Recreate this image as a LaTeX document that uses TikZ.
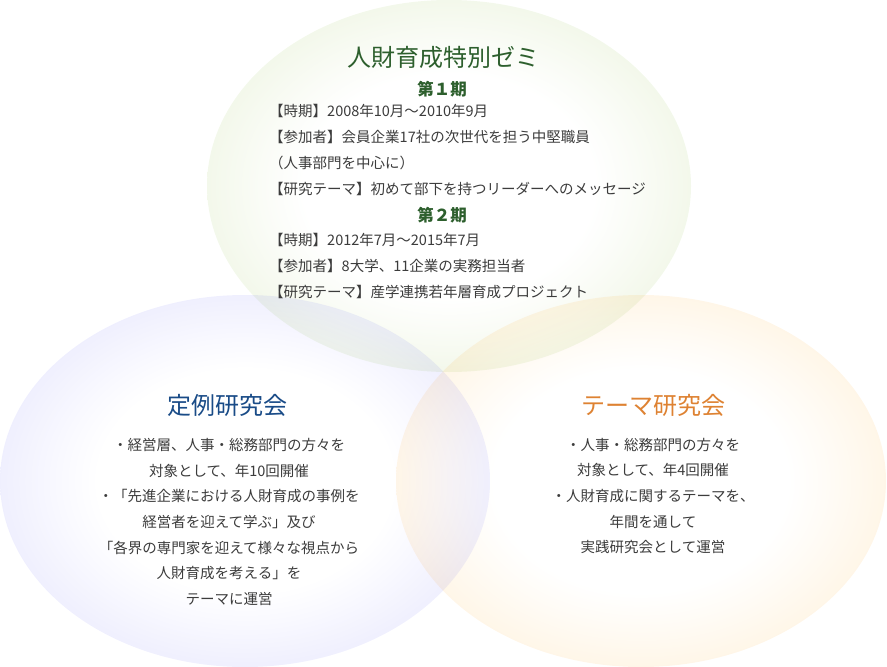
\documentclass[tikz,border=0pt]{standalone}
\usepackage{fontspec}
\setmainfont{Noto Sans CJK JP}
\usepackage{tikz}
\definecolor{gring}{RGB}{210,228,178}
\definecolor{bring}{RGB}{196,196,252}
\definecolor{oring}{RGB}{255,222,168}
\definecolor{gtxt}{RGB}{45,95,45}
\definecolor{btxt}{RGB}{25,75,135}
\definecolor{otxt}{RGB}{222,130,50}
\definecolor{bodytxt}{RGB}{60,60,60}
\pgfdeclareradialshading{gshade}{\pgfpoint{0bp}{0bp}}{color(0bp)=(white); color(15bp)=(white); color(19bp)=(gring!10!white); color(27bp)=(gring!32!white); color(35.4bp)=(gring); color(50bp)=(gring)}
\pgfdeclareradialshading{bshade}{\pgfpoint{0bp}{0bp}}{color(0bp)=(white); color(15bp)=(white); color(19bp)=(bring!10!white); color(27bp)=(bring!32!white); color(35.4bp)=(bring); color(50bp)=(bring)}
\pgfdeclareradialshading{oshade}{\pgfpoint{0bp}{0bp}}{color(0bp)=(white); color(15bp)=(white); color(19bp)=(oring!10!white); color(27bp)=(oring!32!white); color(35.4bp)=(oring); color(50bp)=(oring)}

\begin{document}
\begin{tikzpicture}[
  x=1bp, y=-1bp,
  ttl/.style={inner sep=0pt, font=\fontsize{24bp}{28bp}\selectfont},
  ki/.style={inner sep=0pt, text=gtxt, font=\fontsize{16.5bp}{20bp}\selectfont\bfseries},
  txt/.style={inner sep=0pt, text=bodytxt, font=\fontsize{14.5bp}{25.7bp}\selectfont}]

\useasboundingbox (0,0) rectangle (887,667);

\begin{scope}[blend mode=multiply]
\foreach \s/\cx/\cy/\rx in {bshade/245/481/245, oshade/641/481/245, gshade/449/186/242} {
  \shade[shading=\s] (\cx,\cy) ellipse ({\rx} and 186);
}
\end{scope}

\node[ttl, text=gtxt] (zemi) at (443,57) {人財育成特別ゼミ};
\node[ki] (ki1) at (442,89) {第１期};
\node[txt, anchor=west, align=left] (ki1txt) at (269,150)
      {【時期】2008年10月～2010年9月\\
       【参加者】会員企業17社の次世代を担う中堅職員\\
       （人事部門を中心に）\\
       【研究テーマ】初めて部下を持つリーダーへのメッセージ};
\node[ki] (ki2) at (442,215) {第２期};
\node[txt, anchor=west, align=left] (ki2txt) at (269,266)
      {【時期】2012年7月～2015年7月\\
       【参加者】8大学、11企業の実務担当者\\
       【研究テーマ】産学連携若年層育成プロジェクト};

\node[ttl, text=btxt] (teirei) at (227,405) {定例研究会};
\node[txt, align=center] (teireitxt) at (229,522)
      {・経営層、人事・総務部門の方々を\\
       対象として、年10回開催\\
       ・「先進企業における人財育成の事例を\\
       経営者を迎えて学ぶ」及び\\
       「各界の専門家を迎えて様々な視点から\\
       人財育成を考える」を\\
       テーマに運営};

\node[ttl, text=otxt] (thema) at (653,405) {テーマ研究会};
\node[txt, align=center] (thematxt) at (653,496)
      {・人事・総務部門の方々を\\
       対象として、年4回開催\\
       ・人財育成に関するテーマを、\\
       年間を通して\\
       実践研究会として運営};
\end{tikzpicture}
\end{document}
